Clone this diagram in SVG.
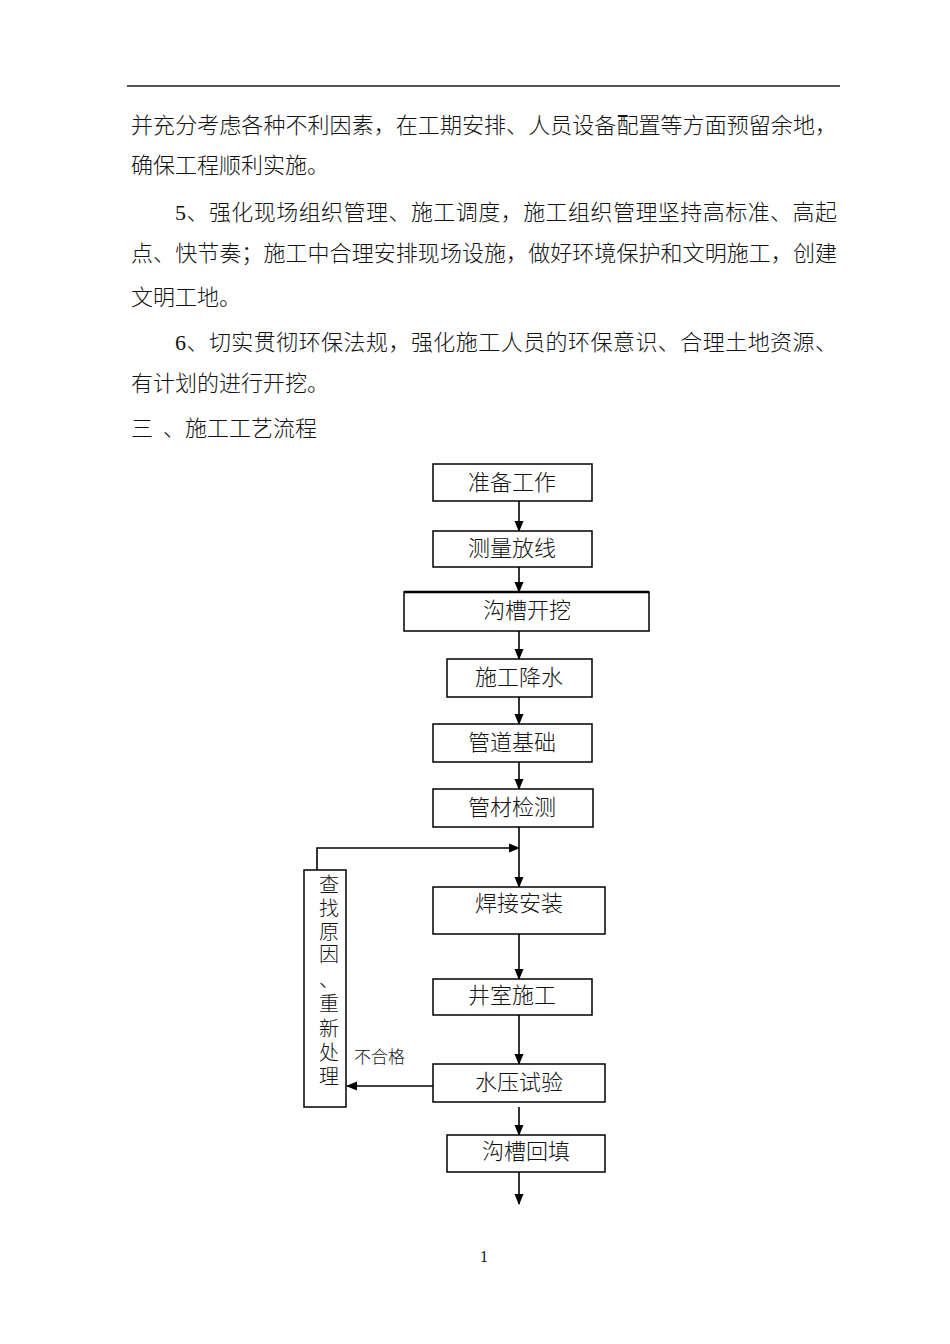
<svg xmlns="http://www.w3.org/2000/svg" width="950" height="1344" viewBox="0 0 950 1344">
<defs>
<marker id="ah" markerWidth="11" markerHeight="10" refX="10" refY="5" orient="auto" markerUnits="userSpaceOnUse">
<path d="M0,0.5 L11,5 L0,9.5 Z" fill="#000"/>
</marker>
<style>
.p{font-family:"Liberation Serif","Noto Sans CJK SC",serif;font-size:22px;font-weight:300;fill:#111;dominant-baseline:central}
.b{fill:#fff;stroke:#000;stroke-width:1.5}
.t{font-family:"Liberation Serif","Noto Sans CJK SC",serif;font-size:22px;font-weight:300;fill:#111;text-anchor:middle;dominant-baseline:central}
.v{font-family:"Liberation Serif","Noto Sans CJK SC",serif;font-size:20px;font-weight:300;fill:#111;text-anchor:middle;dominant-baseline:central}
.c{stroke:#000;stroke-width:1.6;fill:none}
</style>
</defs>
<rect width="950" height="1344" fill="#fff"/>
<line x1="127" y1="86" x2="840" y2="86" stroke="#555" stroke-width="2"/>
<g id="body-text">
<text class="p" x="131" y="125" textLength="706" lengthAdjust="spacing">并充分考虑各种不利因素，在工期安排、人员设备配置等方面预留余地，</text>
<text class="p" x="131" y="165">确保工程顺利实施。</text>
<text class="p" x="175" y="212" textLength="662" lengthAdjust="spacing">5、强化现场组织管理、施工调度，施工组织管理坚持高标准、高起</text>
<text class="p" x="131" y="253" textLength="706" lengthAdjust="spacing">点、快节奏；施工中合理安排现场设施，做好环境保护和文明施工，创建</text>
<text class="p" x="131" y="297">文明工地。</text>
<text class="p" x="175" y="342" textLength="662" lengthAdjust="spacing">6、切实贯彻环保法规，强化施工人员的环保意识、合理土地资源、</text>
<text class="p" x="131" y="383">有计划的进行开挖。</text>
<text class="p" x="131" y="428">三<tspan x="163">、施工工艺流程</tspan></text>
</g>
<g id="connectors">
<line class="c" x1="519" y1="501" x2="519" y2="531" marker-end="url(#ah)"/>
<line class="c" x1="519" y1="567" x2="519" y2="592" marker-end="url(#ah)"/>
<line class="c" x1="519" y1="631" x2="519" y2="659" marker-end="url(#ah)"/>
<line class="c" x1="519" y1="697" x2="519" y2="724" marker-end="url(#ah)"/>
<line class="c" x1="519" y1="762" x2="519" y2="789" marker-end="url(#ah)"/>
<line class="c" x1="519" y1="827" x2="519" y2="887" marker-end="url(#ah)"/>
<polyline class="c" points="317,870 317,848 519,848" marker-end="url(#ah)"/>
<line class="c" x1="519" y1="934" x2="519" y2="979" marker-end="url(#ah)"/>
<line class="c" x1="519" y1="1015" x2="519" y2="1064" marker-end="url(#ah)"/>
<line class="c" x1="433" y1="1086" x2="347" y2="1086" marker-end="url(#ah)"/>
<line class="c" x1="519" y1="1107" x2="519" y2="1135" marker-end="url(#ah)"/>
<line class="c" x1="519" y1="1172" x2="519" y2="1204" marker-end="url(#ah)"/>
<text x="354" y="1057" font-family="Liberation Serif,Noto Sans CJK SC,serif" font-size="17" font-weight="300" fill="#111" dominant-baseline="central">不合格</text>
</g>
<g id="n1"><rect class="b" x="433" y="464" width="159" height="37"/><text class="t" x="512" y="482">准备工作</text></g>
<g id="n2"><rect class="b" x="433" y="531" width="159" height="36"/><text class="t" x="512" y="548">测量放线</text></g>
<g id="n3"><rect class="b" x="404" y="592" width="245" height="39"/><line x1="404" y1="592" x2="649" y2="592" stroke="#000" stroke-width="2.5"/><text class="t" x="527" y="610">沟槽开挖</text></g>
<g id="n4"><rect class="b" x="447" y="659" width="145" height="38"/><text class="t" x="519" y="677">施工降水</text></g>
<g id="n5"><rect class="b" x="433" y="724" width="159" height="38"/><text class="t" x="512" y="742">管道基础</text></g>
<g id="n6"><rect class="b" x="433" y="789" width="160" height="38"/><text class="t" x="512" y="807">管材检测</text></g>
<g id="n7"><rect class="b" x="433" y="887" width="172" height="47"/><text class="t" x="519" y="903">焊接安装</text></g>
<g id="n8"><rect class="b" x="433" y="979" width="159" height="36"/><text class="t" x="512" y="995">井室施工</text></g>
<g id="n9"><rect class="b" x="433" y="1064" width="172" height="38"/><text class="t" x="519" y="1082">水压试验</text></g>
<g id="n10"><rect class="b" x="447" y="1135" width="158" height="37"/><text class="t" x="526" y="1151">沟槽回填</text></g>
<g id="n11"><rect class="b" x="304" y="870" width="42" height="237"/>
<text class="v" x="329" y="885">查</text>
<text class="v" x="329" y="909">找</text>
<text class="v" x="329" y="932">原</text>
<text class="v" x="329" y="955">因</text>
<text class="v" x="329" y="980">、</text>
<text class="v" x="329" y="1004">重</text>
<text class="v" x="329" y="1029">新</text>
<text class="v" x="329" y="1053">处</text>
<text class="v" x="329" y="1077">理</text>
</g>
<text x="484" y="1256" font-family="Liberation Serif,serif" font-size="16" fill="#111" text-anchor="middle" dominant-baseline="central">1</text>
</svg>
